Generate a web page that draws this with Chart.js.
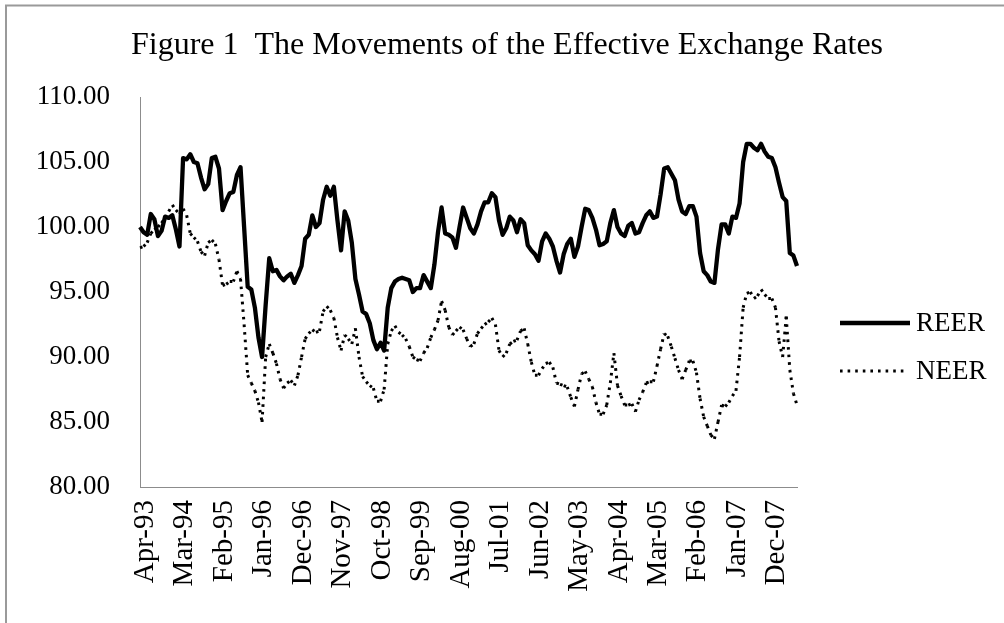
<!DOCTYPE html>
<html>
<head>
<meta charset="utf-8">
<script src="https://cdn.jsdelivr.net/npm/chart.js@4.4.1/dist/chart.umd.min.js"></script>
<style>
  html, body { margin: 0; padding: 0; background: #ffffff; }
  #wrap { width: 1004px; height: 623px; position: relative; }
</style>
</head>
<body>
<div id="wrap"><canvas id="c" width="1004" height="623"></canvas></div>
<script>
// ---- Data ----
const startMonth = 3;   // April (0-based)
const startYear = 1993;
const monthCount = 184; // Apr-93 .. Jul-08

const tickLabels = ['Apr-93','Mar-94','Feb-95','Jan-96','Dec-96','Nov-97','Oct-98','Sep-99',
  'Aug-00','Jul-01','Jun-02','May-03','Apr-04','Mar-05','Feb-06','Jan-07','Dec-07'];
const tickEvery = 11;

const REER = [
  100.0, 99.6, 99.4, 101.0, 100.6, 99.3, 99.7, 100.8, 100.7, 100.9,
  99.8, 98.5, 105.3, 105.2, 105.6, 105.0, 104.9, 103.8, 102.9, 103.3,
  105.3, 105.4, 104.5, 101.3, 102.0, 102.6, 102.7, 104.0, 104.6, 100.0,
  95.4, 95.2, 93.8, 91.5, 90.0, 94.0, 97.6, 96.6, 96.7, 96.2,
  95.9, 96.2, 96.4, 95.7, 96.3, 97.0, 99.1, 99.4, 100.9, 100.0,
  100.3, 102.1, 103.1, 102.4, 103.1, 100.5, 98.2, 101.2, 100.5, 98.8,
  96.0, 94.8, 93.5, 93.3, 92.6, 91.3, 90.6, 91.1, 90.5, 93.8,
  95.3, 95.8, 96.0, 96.1, 96.0, 95.9, 95.0, 95.3, 95.3, 96.3,
  95.8, 95.3, 97.1, 99.6, 101.5, 99.5, 99.4, 99.2, 98.4, 100.0,
  101.5, 100.7, 99.9, 99.5, 100.2, 101.2, 101.9, 101.9, 102.6, 102.3,
  100.5, 99.4, 99.9, 100.8, 100.5, 99.6, 100.6, 100.3, 98.6, 98.2,
  97.9, 97.4, 98.9, 99.5, 99.1, 98.5, 97.4, 96.5, 97.9, 98.7,
  99.1, 97.7, 98.5, 100.0, 101.4, 101.3, 100.7, 99.8, 98.6, 98.7,
  98.9, 100.3, 101.3, 100.0, 99.5, 99.3, 100.1, 100.3, 99.5, 99.6,
  100.3, 100.9, 101.2, 100.7, 100.8, 102.5, 104.5, 104.6, 104.1, 103.6,
  102.1, 101.2, 101.0, 101.6, 101.6, 100.8, 98.0, 96.6, 96.3, 95.8,
  95.7, 98.3, 100.2, 100.2, 99.5, 100.8, 100.7, 101.8, 105.0, 106.4,
  106.4, 106.1, 105.9, 106.4, 105.8, 105.4, 105.3, 104.6, 103.4, 102.3,
  102.0, 98.0, 97.8, 97.0
];

const NEER = [
  98.4, 98.5, 98.8, 99.5, 99.8, 100.0, 100.3, 100.7, 101.2, 101.7,
  101.3, 101.0, 101.4, 100.9, 99.5, 99.2, 98.9, 98.1, 97.8, 98.8,
  99.0, 98.7, 97.5, 95.5, 95.6, 95.8, 95.8, 96.6, 96.0, 92.5,
  88.6, 88.0, 87.4, 86.5, 85.0, 90.0, 91.0, 90.3, 89.5, 88.3,
  87.6, 88.0, 88.2, 87.8, 88.6, 90.0, 91.4, 91.8, 92.1, 91.9,
  92.0, 93.5, 93.9, 93.6, 93.0, 91.5, 90.5, 91.7, 91.4, 91.0,
  92.2, 90.0, 88.5, 88.1, 87.8, 87.6, 86.6, 86.6, 87.5, 91.0,
  92.0, 92.4, 91.9, 91.7, 91.4, 90.8, 90.0, 89.8, 89.7, 90.3,
  90.7, 91.5, 92.1, 92.8, 94.3, 93.6, 92.3, 91.7, 92.0, 92.3,
  92.1, 91.4, 90.8, 91.0, 91.8, 92.2, 92.5, 92.7, 93.0, 92.5,
  90.5, 90.0, 90.3, 91.0, 91.2, 91.3, 92.0, 92.2, 91.0, 89.6,
  88.6, 88.6, 89.1, 89.5, 89.6, 89.2, 88.0, 87.9, 87.8, 87.7,
  86.9, 86.2, 87.5, 88.7, 88.9, 88.3, 87.7, 86.5, 85.6, 85.6,
  86.3, 88.0, 90.3, 87.8, 87.0, 86.3, 86.3, 86.4, 85.8, 86.7,
  87.3, 88.0, 88.1, 88.1, 89.3, 90.6, 91.8, 91.6, 90.8, 89.9,
  89.0, 88.3, 89.0, 89.7, 89.7, 88.8, 86.8, 85.4, 84.7, 84.0,
  83.7, 85.0, 86.3, 86.2, 86.5, 87.0, 87.4, 90.0, 93.8, 94.9,
  95.0, 94.5, 94.7, 95.2, 94.8, 94.5, 94.5, 93.8, 91.2, 90.0,
  93.1, 89.0, 87.2, 86.3
];

const yTicks = [80, 85, 90, 95, 100, 105, 110];

// category labels (month names)
const monthNames = ['Jan','Feb','Mar','Apr','May','Jun','Jul','Aug','Sep','Oct','Nov','Dec'];
const categories = [];
for (let k = 0; k < monthCount; k++) {
  const m = (startMonth + k) % 12;
  const y = startYear + Math.floor((startMonth + k) / 12);
  categories.push(monthNames[m] + '-' + String(y % 100).padStart(2, '0'));
}

const FONT = "'Liberation Serif', 'Times New Roman', serif";

// frame (chart area border of the original spreadsheet chart)
const framePlugin = {
  id: 'frame',
  beforeDraw(chart) {
    const ctx = chart.ctx;
    ctx.save();
    ctx.fillStyle = '#ffffff';
    ctx.fillRect(0, 0, chart.width, chart.height);
    ctx.strokeStyle = '#9a9a9a';
    ctx.lineWidth = 2;
    ctx.beginPath();
    ctx.moveTo(6, chart.height);
    ctx.lineTo(6, 5.5);
    ctx.lineTo(chart.width, 5.5);
    ctx.stroke();
    ctx.restore();
  }
};

// legend on the right, drawn from the dataset styles
const legendPlugin = {
  id: 'sideLegend',
  afterDraw(chart) {
    const ctx = chart.ctx;
    const items = [
      { ds: chart.data.datasets[0], y: 323, x0: 840, x1: 910 },
      { ds: chart.data.datasets[1], y: 371, x0: 840, x1: 906 }
    ];
    ctx.save();
    items.forEach(it => {
      ctx.strokeStyle = it.ds.borderColor;
      ctx.lineWidth = it.ds.borderWidth;
      ctx.setLineDash(it.ds.borderDash || []);
      ctx.lineCap = it.ds.borderCapStyle || 'butt';
      ctx.beginPath();
      ctx.moveTo(it.x0, it.y);
      ctx.lineTo(it.x1, it.y);
      ctx.stroke();
      ctx.setLineDash([]);
      ctx.fillStyle = '#000000';
      ctx.font = "27px " + FONT;
      ctx.textBaseline = 'middle';
      ctx.textAlign = 'left';
      ctx.fillText(it.ds.label, 916, it.y + 1);
    });
    ctx.restore();
  }
};

new Chart(document.getElementById('c'), {
  type: 'line',
  data: {
    labels: categories,
    datasets: [
      {
        label: 'REER',
        data: REER,
        borderColor: '#000000',
        borderWidth: 4.3,
        borderJoinStyle: 'round',
        borderCapStyle: 'butt',
        pointRadius: 0,
        tension: 0,
        fill: false
      },
      {
        label: 'NEER',
        data: NEER,
        borderColor: '#000000',
        borderWidth: 3,
        borderDash: [2.6, 5],
        borderCapStyle: 'butt',
        pointRadius: 0,
        tension: 0,
        fill: false,
        segment: {
          // restart the dot pattern at each data point, like the original
          borderDashOffset: ctx => (ctx.p0DataIndex % 2) * 0.0001
        }
      }
    ]
  },
  options: {
    responsive: false,
    animation: false,
    events: [],
    layout: { padding: { left: 10, right: 0, top: 0, bottom: 0 } },
    plugins: {
      legend: { display: false },
      tooltip: { enabled: false },
      title: {
        display: true,
        text: 'Figure 1  The Movements of the Effective Exchange Rates',
        color: '#000000',
        font: { family: FONT, size: 32, weight: 'normal', lineHeight: 1.2 },
        padding: { top: 26, bottom: 32.6 }
      }
    },
    scales: {
      x: {
        type: 'category',
        offset: false,
        grid: { display: false, drawTicks: false },
        border: { display: true, color: '#8c8c8c', width: 1 },
        ticks: {
          autoSkip: false,
          minRotation: 90,
          maxRotation: 90,
          padding: 13,
          labelOffset: 5,
          color: '#000000',
          font: { family: FONT, size: 29 },
          callback: (v, i) => (i % tickEvery === 0 ? tickLabels[i / tickEvery] : '')
        },
        afterFit: s => { s.height = 623 - 487; }
      },
      y: {
        min: 80,
        max: 110,
        grid: { display: false, drawTicks: false },
        border: { display: true, color: '#8c8c8c', width: 1 },
        afterBuildTicks: s => { s.ticks = yTicks.map(v => ({ value: v })); },
        ticks: {
          padding: 30,
          color: '#000000',
          font: { family: FONT, size: 27 },
          callback: v => Number(v).toFixed(2)
        },
        afterFit: s => { s.width = 130; }
      },
      legendSpace: {
        type: 'linear',
        position: 'right',
        display: true,
        grid: { display: false, drawTicks: false },
        border: { display: false },
        ticks: { display: false },
        afterFit: s => { s.width = 1004 - 797; }
      }
    }
  },
  plugins: [framePlugin, legendPlugin]
});
</script>
</body>
</html>
